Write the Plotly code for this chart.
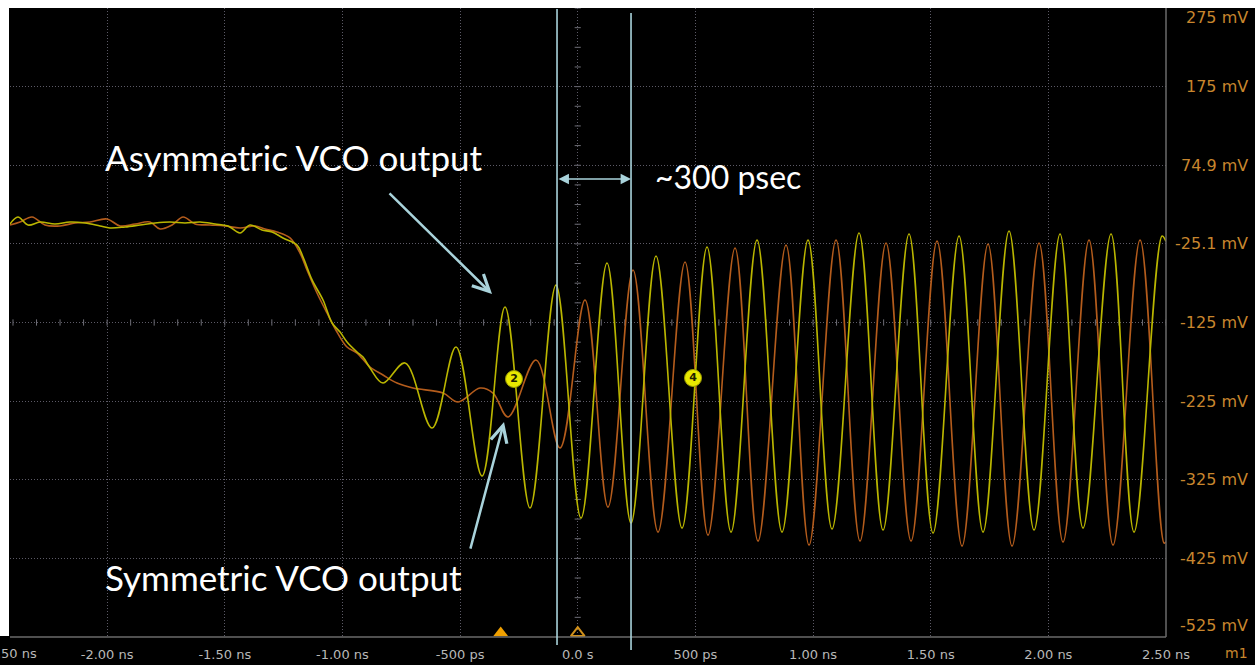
import plotly.graph_objects as go

# ---------------- data (time in ns, voltage in mV) ----------------
x_ticks = [-2.0, -1.5, -1.0, -0.5, 0.0, 0.5, 1.0, 1.5, 2.0, 2.5]
x_tick_text = ["-2.00 ns", "-1.50 ns", "-1.00 ns", "-500 ps", "0.0 s",
               "500 ps", "1.00 ns", "1.50 ns", "2.00 ns", "2.50 ns"]
y_ticks = [275, 175, 75, -25, -125, -225, -325, -425, -525]
y_tick_text = ["275 mV", "175 mV", "74.9 mV", "-25.1 mV", "-125 mV",
               "-225 mV", "-325 mV", "-425 mV", "-525 mV"]

# Asymmetric VCO output (yellow trace)
asym_t = [-2.4127, -2.379, -2.336, -2.285, -2.2215, -2.158, -2.094, -2.030, -1.988,
          -1.924, -1.860, -1.796, -1.733, -1.669, -1.605, -1.541, -1.486, -1.435,
          -1.393, -1.342, -1.299, -1.2525, -1.193, -1.1675, -1.129, -1.0825, -1.044,
          -1.010, -0.9805, -0.938, -0.9125, -0.8827, -0.8275, -0.734, -0.6192,
          -0.5173, -0.4068, -0.309, -0.2028, -0.0923, 0.014, 0.1245, 0.2265, 0.3327,
          0.4432, 0.5495, 0.6515, 0.762, 0.8682, 0.9787, 1.0807, 1.1955, 1.2975,
          1.408, 1.510, 1.6205, 1.7225, 1.833, 1.9392, 2.0497, 2.1474, 2.2664,
          2.3642, 2.4832, 2.5]
asym_mv = [0.3, 9.2, -1.0, 2.8, 0.3, 2.8, 1.6, -2.2, -4.8,
           -3.5, -1.0, 1.6, 2.8, 1.6, 2.8, 0.3, -2.2, -11.1,
           -1.0, -7.3, -9.9, -17.5, -26.4, -41.7, -70.9, -96.4, -125.6,
           -137.1, -149.8, -162.5, -168.9, -182.9, -202.0, -176.5, -259.2,
           -156.2, -320.3, -105.3, -361.0, -77.3, -373.8, -49.3, -380.1, -40.4,
           -386.5, -29.0, -391.6, -20.1, -391.6, -20.1, -387.7, -11.1, -389.0,
           -12.4, -392.8, -15.0, -391.6, -8.6, -389.0, -12.4, -386.5, -12.4,
           -391.6, -15.0, -22.0]

# Symmetric VCO output (orange trace)
sym_t = [-2.4127, -2.370, -2.319, -2.264, -2.200, -2.136, -2.073, -2.0005, -1.945,
         -1.881, -1.818, -1.775, -1.724, -1.677, -1.626, -1.563, -1.499, -1.435,
         -1.372, -1.329, -1.278, -1.2227, -1.1802, -1.1505, -1.108, -1.0655, -1.023,
         -0.9805, -0.938, -0.8827, -0.8275, -0.768, -0.700, -0.5725, -0.5087,
         -0.4153, -0.36, -0.2962, -0.1773, -0.0753, 0.031, 0.1287, 0.235, 0.3412,
         0.456, 0.5537, 0.6685, 0.7662, 0.8852, 0.983, 1.0977, 1.1997, 1.3102,
         1.4165, 1.527, 1.6332, 1.7437, 1.8457, 1.9604, 2.0624, 2.1729, 2.2749,
         2.3897, 2.4917, 2.5]
sym_mv = [-1.0, 2.8, 9.2, -1.0, -2.2, 1.6, 2.8, 6.7, -2.2,
          0.3, 2.8, -6.1, -1.0, 9.2, 0.3, -1.0, -2.2, -4.8,
          -2.2, -6.1, -9.9, -17.5, -36.6, -58.2, -87.5, -112.9, -137.1,
          -156.2, -163.8, -181.6, -191.8, -202.0, -208.4, -214.7, -226.2,
          -208.4, -214.7, -245.2, -172.7, -284.7, -96.4, -359.8, -58.2, -391.6,
          -48.0, -395.4, -30.2, -403.0, -26.4, -408.1, -20.1, -403.0, -23.9,
          -403.0, -21.3, -409.4, -25.1, -409.4, -23.9, -404.3, -20.1, -408.1,
          -20.1, -405.6, -404.0]

# cursors, channel badges, trigger markers
cursor_t = [-0.088, 0.2265]
cursor_arrow_mv = 57.6
badge_t = [-0.2708, 0.49]
badge_mv = [-196.9, -195.6]
badge_text = ["2", "4"]
trig_t = [-0.3273, 0.0]

X_RANGE = [-2.4127, 2.5]
Y_RANGE = [-525, 275]

YELLOW = "#bab600"
ORANGE = "#b45c1c"
CYAN = "#a9d3db"
GRID = "#5c5a66"
LABEL_ORANGE = "#c8862e"
LABEL_GREY = "#b8b8b8"

W, H = 1255, 665
ML, MR, MT, MB = 10, 89, 8, 28
PW = W - ML - MR
PH = H - MT - MB

def px(xpix):
    return (xpix - ML) / PW

def py(ypix):
    return (H - MB - ypix) / PH

fig = go.Figure()

fig.add_trace(go.Scatter(x=sym_t, y=sym_mv, mode="lines", name="Symmetric VCO output",
                         line=dict(color=ORANGE, width=1.6, shape="spline", smoothing=1.0),
                         hoverinfo="skip"))
fig.add_trace(go.Scatter(x=asym_t, y=asym_mv, mode="lines", name="Asymmetric VCO output",
                         line=dict(color=YELLOW, width=1.6, shape="spline", smoothing=1.0),
                         hoverinfo="skip"))

# channel badges
fig.add_trace(go.Scatter(x=badge_t, y=badge_mv, mode="markers+text", text=badge_text,
                         textposition="middle center",
                         textfont=dict(family="DejaVu Sans", size=11, color="#202000", weight="bold"),
                         marker=dict(size=17, color="#e8e800", line=dict(color="#9a9a00", width=1)),
                         hoverinfo="skip", cliponaxis=False))

# trigger markers on bottom edge
fig.add_trace(go.Scatter(x=[trig_t[0]], y=[-520], mode="markers",
                         marker=dict(symbol="triangle-up", size=13, color="#f0a000"),
                         hoverinfo="skip", cliponaxis=False))
fig.add_trace(go.Scatter(x=[trig_t[1]], y=[-520], mode="markers",
                         marker=dict(symbol="triangle-up-open", size=12, color="#d0901a",
                                     line=dict(width=2, color="#d0901a")),
                         hoverinfo="skip", cliponaxis=False))

shapes = []
# small graticule ticks on centre lines
x_step = 0.1
k = -24
while k <= 25:
    t = k * x_step
    shapes.append(dict(type="line", xref="x", yref="y", x0=t, x1=t, y0=-129, y1=-121,
                       line=dict(color="#6e6e76", width=1), layer="below"))
    k += 1
v = -525
while v <= 275:
    shapes.append(dict(type="line", xref="x", yref="y", x0=-0.013, x1=0.013, y0=v, y1=v,
                       line=dict(color="#6e6e76", width=1), layer="below"))
    v += 25

# frame borders (right, bottom)
shapes.append(dict(type="line", xref="paper", yref="paper", x0=1, x1=1, y0=0, y1=1,
                   line=dict(color="#6a6a6a", width=1.5), layer="above"))
shapes.append(dict(type="line", xref="paper", yref="paper", x0=0, x1=1, y0=0, y1=0,
                   line=dict(color="#6a6a6a", width=1.5), layer="above"))

# cursor lines
shapes.append(dict(type="line", xref="x", yref="paper", x0=cursor_t[0], x1=cursor_t[0],
                   y0=py(645), y1=py(9), line=dict(color=CYAN, width=1.6), layer="above"))
shapes.append(dict(type="line", xref="x", yref="paper", x0=cursor_t[1], x1=cursor_t[1],
                   y0=py(650), y1=py(13), line=dict(color=CYAN, width=1.6), layer="above"))

# white crop strips (top and left)
shapes.append(dict(type="rect", xref="paper", yref="paper", x0=-0.05, x1=1.1, y0=1.0, y1=1.05,
                   fillcolor="white", line=dict(width=0), layer="above"))
shapes.append(dict(type="rect", xref="paper", yref="paper", x0=-0.05, x1=px(9), y0=py(636), y1=1.05,
                   fillcolor="white", line=dict(width=0), layer="above"))

annotations = []
# right-hand voltage labels
for i, (val, txt) in enumerate(zip(y_ticks, y_tick_text)):
    shift = 0
    if i == 0:
        shift = -9
    elif i == len(y_ticks) - 1:
        shift = 12
    annotations.append(dict(xref="paper", yref="y", x=px(1250), y=val, text=txt,
                            xanchor="right", yanchor="middle", yshift=shift, showarrow=False,
                            font=dict(family="DejaVu Sans", size=16, color=LABEL_ORANGE)))
# leftmost time label, partly outside the visible screen (as in the screenshot)
annotations.append(dict(xref="paper", yref="paper", x=px(39), y=0, text="-2.50 ns",
                        xanchor="right", yanchor="middle", yshift=-16, showarrow=False,
                        font=dict(family="DejaVu Sans", size=13, color=LABEL_GREY)))
annotations.append(dict(xref="paper", yref="paper", x=px(1236), y=0, text="m1",
                        xanchor="center", yanchor="middle", yshift=-16, showarrow=False,
                        font=dict(family="DejaVu Sans", size=14, color=LABEL_ORANGE)))

# callout texts
TXT_FONT = dict(family="Lato", size=35, color="white")
annotations.append(dict(xref="paper", yref="paper", x=px(103), y=py(157), text="Asymmetric VCO output",
                        xanchor="left", yanchor="middle", showarrow=False, font=TXT_FONT))
annotations.append(dict(xref="paper", yref="paper", x=px(103), y=py(577), text="Symmetric VCO output",
                        xanchor="left", yanchor="middle", showarrow=False, font=TXT_FONT))
annotations.append(dict(xref="paper", yref="paper", x=px(653), y=py(176), text="~300 psec",
                        xanchor="left", yanchor="middle", showarrow=False,
                        font=dict(family="Lato", size=32, color="white")))

# callout arrows
annotations.append(dict(xref="x", yref="y", axref="x", ayref="y",
                        x=-0.3642, y=-88.8, ax=-0.8062, ay=41.0, text="", showarrow=True,
                        arrowhead=5, arrowsize=1.3, arrowwidth=2.5, arrowcolor=CYAN, standoff=0))
annotations.append(dict(xref="x", yref="y", axref="x", ayref="y",
                        x=-0.3133, y=-251.6, ax=-0.4578, ay=-414.5, text="", showarrow=True,
                        arrowhead=5, arrowsize=1.3, arrowwidth=2.5, arrowcolor=CYAN, standoff=0))
# ~300 ps double arrow between cursors
annotations.append(dict(xref="x", yref="y", axref="x", ayref="y",
                        x=cursor_t[1], y=cursor_arrow_mv, ax=cursor_t[0], ay=cursor_arrow_mv,
                        text="", showarrow=True, arrowside="end+start",
                        arrowhead=2, arrowsize=1.3, arrowwidth=1.6, arrowcolor=CYAN,
                        standoff=0, startstandoff=0, startarrowhead=2, startarrowsize=1.3))

fig.update_layout(
    width=W, height=H,
    margin=dict(l=ML, r=MR, t=MT, b=MB, pad=0, autoexpand=False),
    paper_bgcolor="black", plot_bgcolor="black",
    showlegend=False,
    shapes=shapes, annotations=annotations,
    xaxis=dict(range=X_RANGE, tickvals=x_ticks, ticktext=x_tick_text,
               tickfont=dict(family="DejaVu Sans", size=13, color=LABEL_GREY),
               showgrid=True, gridcolor=GRID, griddash="1px,2px", gridwidth=1,
               zeroline=False, showline=False, ticks="", ticklabelstandoff=8,
               automargin=False, fixedrange=True),
    yaxis=dict(range=Y_RANGE, tickvals=y_ticks, showticklabels=False,
               showgrid=True, gridcolor=GRID, griddash="1px,2px", gridwidth=1,
               zeroline=False, showline=False, ticks="", automargin=False, fixedrange=True),
)

fig.write_html("out.html")
